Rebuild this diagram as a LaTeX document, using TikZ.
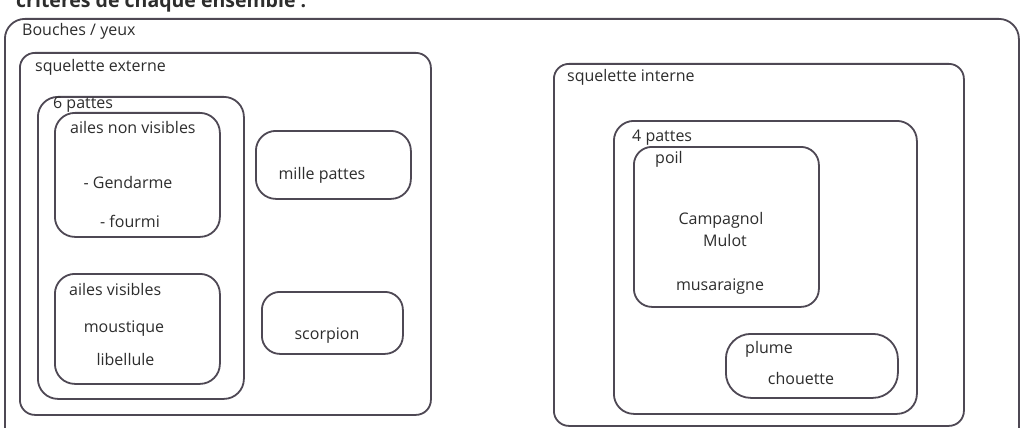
\documentclass[tikz,border=0pt]{standalone}
\usepackage{fontspec}
\setmainfont{Open Sans}
\definecolor{lin}{RGB}{78,72,84}
\definecolor{txt}{RGB}{45,45,45}
\tikzset{
  box/.style={draw=lin, line width=1.8pt, rectangle, anchor=north west, inner sep=0pt},
  lbl/.style={anchor=base west, inner sep=0pt, text=txt, font=\fontsize{16}{19}\selectfont},
  itm/.style={anchor=base, inner sep=0pt, text=txt, font=\fontsize{16}{19}\selectfont},
}
\begin{document}
\begin{tikzpicture}[x=1pt,y=-1pt]
\useasboundingbox (0,0) rectangle (1021,428);
\clip (0,0) rectangle (1021,428);
\fill[white] (0,0) rectangle (1021,428);
% title, cut by the top edge
\node[anchor=base west, inner sep=0pt, text=txt, font=\bfseries\fontsize{19.5}{23}\selectfont] (title) at (16,7.5) {critères de chaque ensemble :};
% outer box
\node[box, rounded corners=20pt, minimum width=1014pt, minimum height=440pt] (outer) at (4,18) {};
\node[lbl] (outerl) at (22,36) {Bouches / yeux};
% squelette externe
\node[box, rounded corners=15pt, minimum width=411pt, minimum height=362pt] (sqext) at (19,52) {};
\node[lbl] (sqextl) at (35,72) {squelette externe};
\node[box, rounded corners=20pt, minimum width=206pt, minimum height=302pt] (six) at (37,96) {};
\node[lbl] (sixl) at (53,108) {6 pattes};
\node[box, rounded corners=20pt, minimum width=165pt, minimum height=124pt] (anv) at (54,112) {};
\node[lbl] (anvl) at (70,133) {ailes non visibles};
\node[itm] (gend) at (128,188) {- Gendarme};
\node[itm] (four) at (130,227) {- fourmi};
\node[box, rounded corners=20pt, minimum width=165pt, minimum height=110pt] (av) at (54,273) {};
\node[lbl] (avl) at (69,295) {ailes visibles};
\node[itm] (mous) at (124,332) {moustique};
\node[itm] (libe) at (125.5,365) {libellule};
\node[box, rounded corners=20pt, minimum width=155pt, minimum height=68pt] (mille) at (255,130) {};
\node[itm] (millel) at (322,179) {mille pattes};
\node[box, rounded corners=18pt, minimum width=141pt, minimum height=62pt] (scor) at (261,291) {};
\node[itm] (scorl) at (327,339) {scorpion};
% squelette interne
\node[box, rounded corners=15pt, minimum width=410pt, minimum height=362pt] (sqint) at (553,63) {};
\node[lbl] (sqintl) at (567,82) {squelette interne};
\node[box, rounded corners=20pt, minimum width=303pt, minimum height=293pt] (four4) at (613,120) {};
\node[lbl] (four4l) at (632,141) {4 pattes};
\node[box, rounded corners=18pt, minimum width=185pt, minimum height=160pt] (poil) at (633,146) {};
\node[lbl] (poill) at (655,163) {poil};
\node[itm] (camp) at (721,224) {Campagnol};
\node[itm] (mulo) at (725,246) {Mulot};
\node[itm] (musa) at (720,290) {musaraigne};
\node[box, rounded corners=25pt, minimum width=172pt, minimum height=64pt] (plume) at (725,333) {};
\node[lbl] (pluml) at (745,353) {plume};
\node[itm] (chou) at (801,384) {chouette};
\end{tikzpicture}
\end{document}
